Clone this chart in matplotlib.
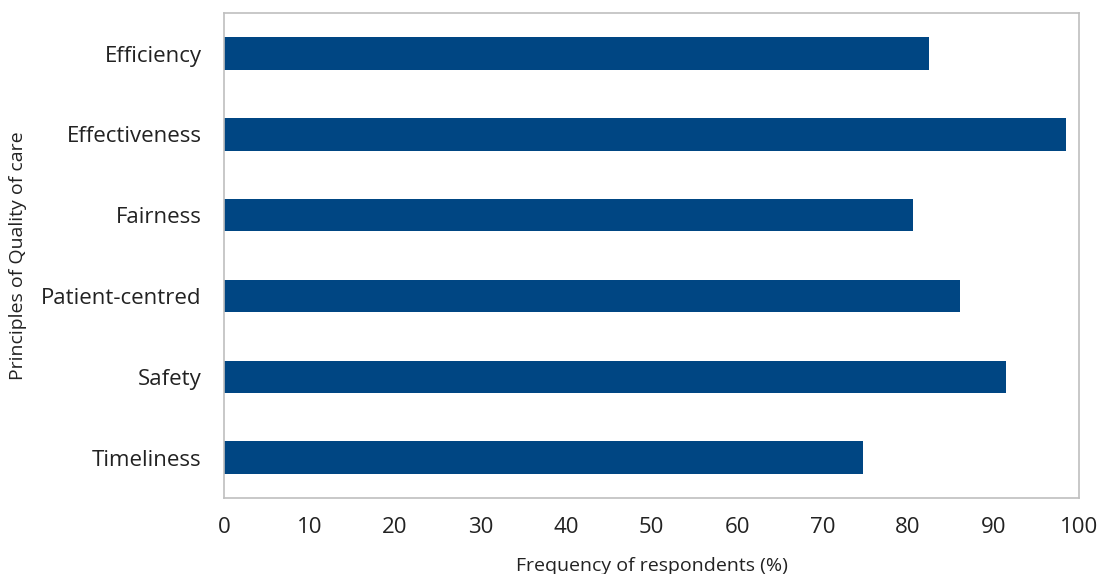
import matplotlib.pyplot as plt

# Principles of quality of care, top to bottom
principles = ["Efficiency", "Effectiveness", "Fairness", "Patient-centred", "Safety", "Timeliness"]
frequency = [82.4, 98.5, 80.6, 86.1, 91.5, 74.7]

plt.rcParams["font.family"] = ["Open Sans", "DejaVu Sans"]

fig = plt.figure(figsize=(11.01, 5.74), dpi=100)
ax = fig.add_axes([0.2035, 0.1324, 0.7765, 0.8446])

ax.barh(principles, frequency, height=0.4, color="#004683")
ax.set_xlim(0, 100)
ax.set_ylim(5.5, -0.5)
ax.set_xticks(range(0, 101, 10))

for side in ax.spines.values():
    side.set_color("#BFBFBF")
    side.set_linewidth(1.2)
ax.tick_params(length=0, labelsize=16, colors="#222222")
ax.tick_params(axis="x", pad=14)
ax.tick_params(axis="y", pad=16)

ax.set_xlabel("Frequency of respondents (%)", fontsize=14, color="#222222", labelpad=13)
ax.set_ylabel("Principles of Quality of care", fontsize=14, color="#222222", labelpad=10)

plt.savefig("out.png")
